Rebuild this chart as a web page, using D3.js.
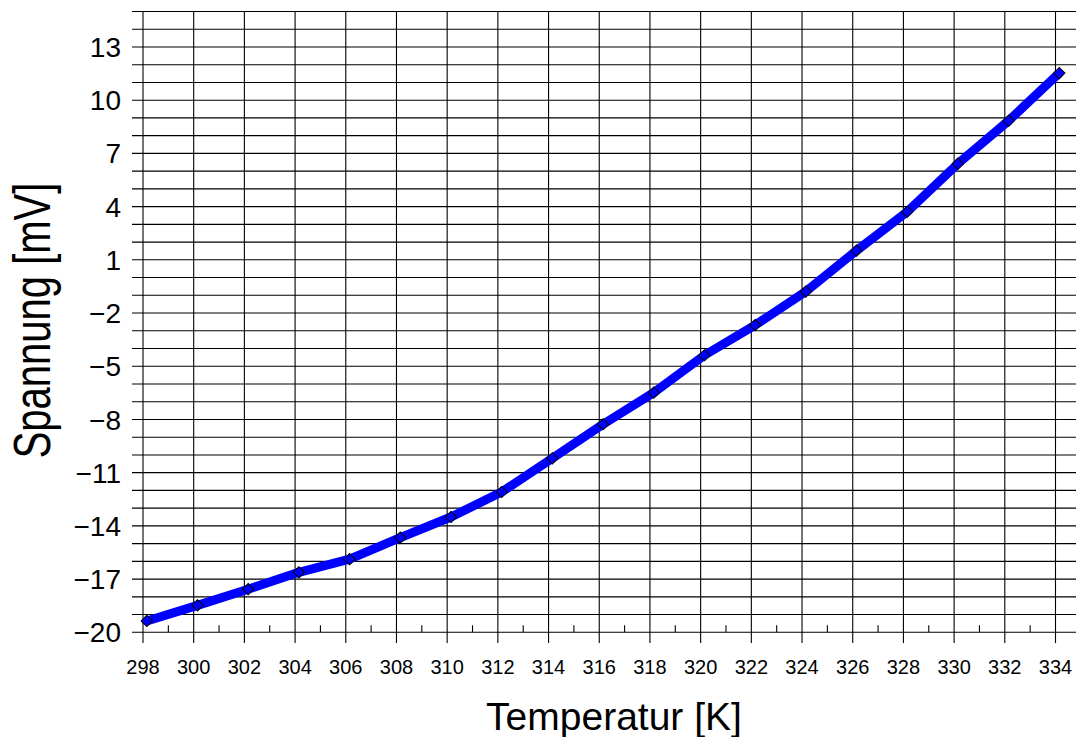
<!DOCTYPE html>
<html>
<head>
<meta charset="utf-8">
<script src="https://cdn.jsdelivr.net/npm/d3@7"></script>
<style>
    body { margin: 0; background: #fff; }
    svg { display: block; }
    text { font-family: "Liberation Sans", Arial, sans-serif; fill: #000; }
</style>
</head>
<body>
<svg id="chart" width="1076" height="737"></svg>
<script>
// Measured temperatures (K) and thermo voltage (mV)
var temperatures = [298.15, 300.15, 302.15, 304.15, 306.15, 308.15, 310.15,
    312.15, 314.15, 316.15, 318.15, 320.15, 322.15, 324.15, 326.15, 328.15,
    330.15, 332.15, 334.15];
var voltages = [-19.36, -18.48, -17.57, -16.62, -15.88, -14.66, -13.50,
    -12.09, -10.19, -8.27, -6.49, -4.38, -2.68, -0.79, 1.52, 3.71,
    6.42, 8.84, 11.53];

var xTicks = [298, 300, 302, 304, 306, 308, 310, 312, 314, 316, 318, 320,
    322, 324, 326, 328, 330, 332, 334];
var xMinorTicks = [299, 301, 303, 305, 307, 309, 311, 313, 315, 317, 319,
    321, 323, 325, 327, 329, 331, 333];
var yTicks = [-20, -17, -14, -11, -8, -5, -2, 1, 4, 7, 10, 13];
var yGrid = [-20, -19, -18, -17, -16, -15, -14, -13, -12, -11, -10, -9, -8,
    -7, -6, -5, -4, -3, -2, -1, 0, 1, 2, 3, 4, 5, 6, 7, 8, 9, 10, 11, 12, 13,
    14, 15];

var svg = d3.select("#chart");

var x = d3.scaleLinear().domain([298, 334]).range([143, 1055.5]);
var y = d3.scaleLinear().domain([-20, 15]).range([632.3, 11.5]);

var fmt = function(d) {
    return d < 0 ? "\u2212" + Math.abs(d) : String(d);
};

// horizontal grid, running into the tick marks on the left
svg.append("g").selectAll("line")
    .data(yGrid)
    .enter().append("line")
        .attr("x1", 132)
        .attr("x2", 1076)
        .attr("y1", function(d) { return y(d); })
        .attr("y2", function(d) { return y(d); })
        .attr("stroke", "#000")
        .attr("stroke-width", 1.1);

// vertical grid, major ticks stick out below the axis
svg.append("g").selectAll("line")
    .data(xTicks)
    .enter().append("line")
        .attr("x1", function(d) { return x(d); })
        .attr("x2", function(d) { return x(d); })
        .attr("y1", y(15))
        .attr("y2", 643)
        .attr("stroke", "#000")
        .attr("stroke-width", 1.1);

// minor ticks point up into the plot
svg.append("g").selectAll("line")
    .data(xMinorTicks)
    .enter().append("line")
        .attr("x1", function(d) { return x(d); })
        .attr("x2", function(d) { return x(d); })
        .attr("y1", y(-20))
        .attr("y2", y(-20) - 7)
        .attr("stroke", "#000")
        .attr("stroke-width", 1.1);

// tick labels
svg.append("g").selectAll("text")
    .data(yTicks)
    .enter().append("text")
        .attr("x", 121)
        .attr("y", function(d) { return y(d); })
        .attr("dy", "0.36em")
        .attr("text-anchor", "end")
        .style("font-size", "28px")
        .text(fmt);

svg.append("g").selectAll("text")
    .data(xTicks)
    .enter().append("text")
        .attr("x", function(d) { return x(d); })
        .attr("y", 667)
        .attr("dy", "0.36em")
        .attr("text-anchor", "middle")
        .style("font-size", "20px")
        .text(fmt);

// axis titles
svg.append("text")
    .attr("x", 614)
    .attr("y", 730)
    .attr("text-anchor", "middle")
    .style("font-size", "39px")
    .text("Temperatur [K]");

// the y title is drawn taller than it is wide in the original
svg.append("text")
    .attr("transform", "translate(49.5,320.5) rotate(-90) scale(1,1.28)")
    .attr("text-anchor", "middle")
    .style("font-size", "40px")
    .text("Spannung [mV]");

// data line and markers
var pts = temperatures.map(function(t, i) {
    return [t, voltages[i]];
});

svg.append("path")
    .datum(pts)
    .attr("fill", "none")
    .attr("stroke", "#0000ff")
    .attr("stroke-width", 9)
    .attr("stroke-linejoin", "round")
    .attr("d", d3.line()
        .x(function(d) { return x(d[0]); })
        .y(function(d) { return y(d[1]); }));

var marker = d3.symbol().type(d3.symbolSquare).size(64);
svg.append("g").selectAll("path")
    .data(pts)
    .enter().append("path")
        .attr("transform", function(d) {
            return "translate(" + x(d[0]) + "," + y(d[1]) + ") rotate(45)";
        })
        .attr("d", marker)
        .attr("fill", "#0000ff")
        .attr("stroke", "#000")
        .attr("stroke-width", 1);
</script>
</body>
</html>
